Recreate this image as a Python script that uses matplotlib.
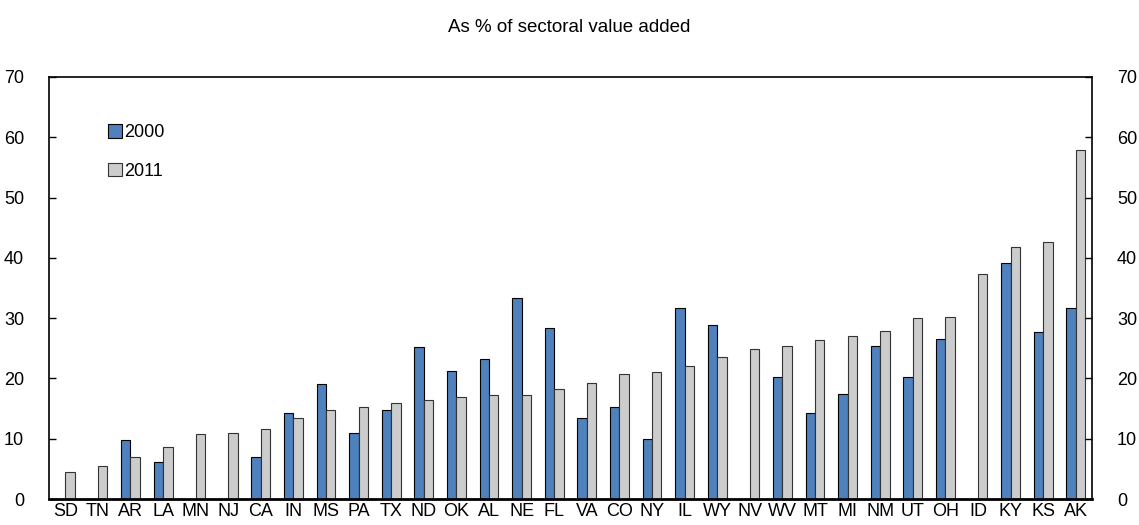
import numpy as np
import matplotlib
matplotlib.use('Agg')
from matplotlib import pyplot as plt

# states, sorted by 2011 share
states = ['SD', 'TN', 'AR', 'LA', 'MN', 'NJ', 'CA', 'IN', 'MS', 'PA', 'TX',
          'ND', 'OK', 'AL', 'NE', 'FL', 'VA', 'CO', 'NY', 'IL', 'WY', 'NV',
          'WV', 'MT', 'MI', 'NM', 'UT', 'OH', 'ID', 'KY', 'KS', 'AK']
v2000 = [np.nan, np.nan, 9.8, 6.1, np.nan, np.nan, 7.0, 14.2, 19.1, 11.0, 14.7,
         25.2, 21.3, 23.2, 33.3, 28.4, 13.4, 15.3, 10.0, 31.7, 28.9, np.nan,
         20.2, 14.3, 17.5, 25.3, 20.3, 26.6, np.nan, 39.1, 27.7, 31.6]
v2011 = [4.5, 5.5, 7.0, 8.6, 10.7, 11.0, 11.6, 13.5, 14.8, 15.3, 16.0,
         16.4, 16.9, 17.3, 17.3, 18.2, 19.2, 20.8, 21.1, 22.1, 23.6, 24.9,
         25.3, 26.3, 27.0, 27.8, 30.0, 30.2, 37.4, 41.8, 42.6, 57.9]
yticks = [0, 10, 20, 30, 40, 50, 60, 70]

plt.rcParams['font.family'] = ['Liberation Sans', 'DejaVu Sans']
plt.rcParams['font.size'] = 13

fig = plt.figure(figsize=(11.39, 5.25), dpi=100)
ax = fig.add_axes([49 / 1139, 1 - 499 / 525, (1092 - 49) / 1139, (499 - 77) / 525])

x = np.arange(len(states))
w = 0.29
ax.bar(x - w / 2, v2000, w, color='#4f81bd', edgecolor='black', linewidth=0.8, label='2000')
ax.bar(x + w / 2, v2011, w, color='#cccccc', edgecolor='#333333', linewidth=0.8, label='2011')

ax.set_xlim(-0.5, len(states) - 0.5)
ax.set_ylim(0, 70)
ax.set_xticks(x)
ax.set_xticklabels(states)
ax.tick_params(axis='x', length=0, pad=3)
ax.set_yticks(yticks)
ax.tick_params(axis='y', direction='in', length=5, width=1, pad=18,
               left=True, right=True, labelleft=True, labelright=True)
for s in ['left', 'right', 'top']:
    ax.spines[s].set_linewidth(1.2)
ax.spines['bottom'].set_linewidth(2)

ax.legend(loc='upper left', bbox_to_anchor=(0.05, 0.905), frameon=False,
          handlelength=0.75, handleheight=0.75, handletextpad=0.15,
          labelspacing=1.2, borderaxespad=0, fontsize=13)

fig.text(0.5, 1 - 28 / 525, 'As % of sectoral value added', ha='center', va='center', fontsize=13.5)

plt.savefig('out.png', dpi=100)
